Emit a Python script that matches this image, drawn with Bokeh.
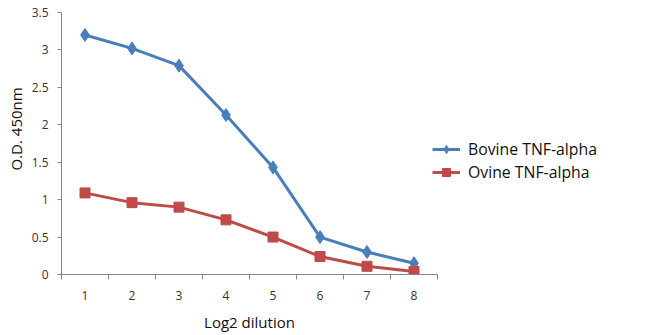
from bokeh.plotting import figure
from bokeh.models import Legend, LegendItem, FixedTicker, Range1d, Title
from bokeh.embed import file_html
from bokeh.resources import INLINE

dilution = [1, 2, 3, 4, 5, 6, 7, 8]
bovine = [3.2, 3.02, 2.79, 2.13, 1.43, 0.5, 0.3, 0.15]
ovine = [1.09, 0.96, 0.9, 0.73, 0.5, 0.24, 0.11, 0.04]
y_ticks = [0, 0.5, 1, 1.5, 2, 2.5, 3, 3.5]
y_labels = {0: "0", 0.5: "0.5", 1: "1", 1.5: "1.5", 2: "2", 2.5: "2.5", 3: "3", 3.5: "3.5"}

FONT = "Open Sans"
BLUE = "#4a7ebb"
RED = "#be4b48"
AXIS = "#868686"

p = figure(frame_width=376, frame_height=262, output_backend="svg", toolbar_location=None,
           x_range=Range1d(0.5, 8.5), y_range=Range1d(0, 3.5),
           min_border_left=60, min_border_top=12, min_border_right=214, min_border_bottom=0)
p.outline_line_color = None
p.xgrid.visible = False
p.ygrid.visible = False
p.background_fill_color = "white"
p.border_fill_color = "white"

r1 = p.line(dilution, bovine, line_color=BLUE, line_width=3)
m1 = p.scatter(dilution, bovine, marker="diamond", size=13, fill_color=BLUE, line_color=BLUE)
r2 = p.line(dilution, ovine, line_color=RED, line_width=3)
m2 = p.scatter(dilution, ovine, marker="square", size=10, fill_color=RED, line_color=RED)

p.xaxis.ticker = FixedTicker(ticks=dilution, minor_ticks=[x + 0.5 for x in range(0, 9)])
p.xaxis.major_tick_out = 0
p.xaxis.major_tick_in = 0
p.xaxis.minor_tick_out = 5
p.xaxis.minor_tick_in = 0
p.xaxis.minor_tick_line_color = AXIS
p.xaxis.axis_line_color = AXIS
p.xaxis.major_label_standoff = 11
p.xaxis.axis_label = "Log2 dilution"
p.xaxis.axis_label_standoff = 9

p.yaxis.ticker = FixedTicker(ticks=y_ticks, minor_ticks=[])
p.yaxis.major_label_overrides = y_labels
p.yaxis.major_tick_out = 4
p.yaxis.major_tick_in = 0
p.yaxis.major_tick_line_color = AXIS
p.yaxis.axis_line_color = AXIS
p.yaxis.major_label_standoff = 9

for ax in (p.xaxis, p.yaxis):
    ax.major_label_text_font = FONT
    ax.major_label_text_font_size = "12px"
    ax.major_label_text_color = "#333333"
    ax.axis_label_text_font = FONT
    ax.axis_label_text_font_size = "15px"
    ax.axis_label_text_font_style = "normal"
    ax.axis_label_text_color = "#111111"

ytitle = Title(text="O.D. 450nm", align="left", offset=104, text_font=FONT,
               text_font_size="15px", text_font_style="normal", text_color="#111111",
               standoff=6)
p.add_layout(ytitle, "left")

legend = Legend(items=[LegendItem(label="Bovine TNF-alpha", renderers=[r1, m1]),
                       LegendItem(label="Ovine TNF-alpha", renderers=[r2, m2])],
                location=(-5, 91))
legend.label_text_font = FONT
legend.label_text_font_size = "15.8px"
legend.label_text_color = "#111111"
legend.glyph_width = 28
legend.glyph_height = 20
legend.spacing = 1
legend.padding = 0
legend.margin = 0
legend.label_standoff = 8
legend.border_line_color = None
legend.background_fill_alpha = 0
p.add_layout(legend, "right")

open("out.html", "w").write(file_html(p, INLINE))
